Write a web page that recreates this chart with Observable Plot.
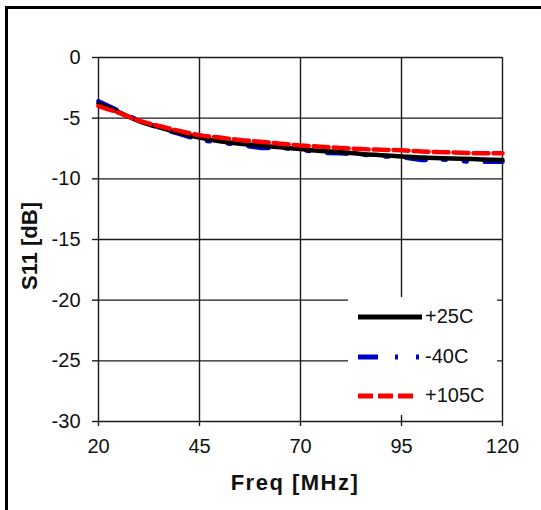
<!DOCTYPE html>
<html>
<head>
<meta charset="utf-8">
<script src="https://cdn.jsdelivr.net/npm/d3@7"></script>
<script src="https://cdn.jsdelivr.net/npm/@observablehq/plot@0.6"></script>
<style>
  html, body { margin: 0; padding: 0; background: #fff; overflow: hidden; }
  #wrap { position: relative; width: 541px; height: 510px; overflow: hidden; font-family: "Liberation Sans", Arial, sans-serif; }
  #frame { position: absolute; left: 5px; top: 6px; width: 600px; height: 600px; border: 3.5px solid #000; box-sizing: border-box; }
  #chart { position: absolute; left: 0; top: 0; }
  #legend { position: absolute; left: 348px; top: 297px; width: 149px; height: 118px; background: #fff; }
  .ttl { position: absolute; font-weight: bold; font-size: 22px; color: #111; white-space: nowrap; }
</style>
</head>
<body>
<div id="wrap">
  <div id="frame"></div>
  <div id="chart"></div>
  <div id="legend"></div>
  <div class="ttl" id="ytitle">S11 [dB]</div>
  <div class="ttl" id="xtitle">Freq [MHz]</div>
</div>
<script>
const freq = [20,25,30,35,40,45,50,55,60,65,70,75,80,85,90,95,100,105,110,115,120];
const s11_p25  = [-3.8,-4.5,-5.25,-5.75,-6.2,-6.6,-6.9,-7.1,-7.25,-7.4,-7.55,-7.7,-7.8,-7.95,-8.05,-8.15,-8.25,-8.3,-8.35,-8.4,-8.45];
const s11_m40  = [-3.6,-4.4,-5.2,-5.8,-6.3,-6.8,-7.0,-7.2,-7.45,-7.45,-7.6,-7.85,-7.9,-8.0,-8.15,-8.2,-8.45,-8.4,-8.55,-8.6,-8.6];
const s11_p105 = [-4.0,-4.55,-5.2,-5.65,-6.05,-6.4,-6.6,-6.8,-6.95,-7.1,-7.25,-7.35,-7.45,-7.55,-7.6,-7.65,-7.75,-7.8,-7.85,-7.9,-7.9];
const xTicks = [20,45,70,95,120];
const yTicks = [0,-5,-10,-15,-20,-25,-30];
const seriesNames = ["+25C","-40C","+105C"];
const seriesColors = ["#000000","#0000cc","#ff0000"];
const seriesDash = [null, "20,17,3,18,3,18", "15,5"];

const rows = (vals, name) => freq.map((f, i) => ({freq: f, s11: vals[i], series: name}));
const dBlack = rows(s11_p25, seriesNames[0]);
const dBlue  = rows(s11_m40, seriesNames[1]);
const dRed   = rows(s11_p105, seriesNames[2]);

const W = 541, H = 510;
const chart = Plot.plot({
  width: W, height: H,
  marginLeft: 98, marginRight: 39, marginTop: 57, marginBottom: 89,
  style: {fontFamily: '"Liberation Sans", Arial, sans-serif', fontSize: "20px", color: "#111", background: "transparent", overflow: "visible"},
  x: {domain: [20, 120]},
  y: {domain: [-30, 0]},
  marks: [
    Plot.gridX(xTicks, {stroke: "#1a1a1a", strokeOpacity: 1, strokeWidth: 1.4}),
    Plot.gridY(yTicks, {stroke: "#1a1a1a", strokeOpacity: 1, strokeWidth: 1.4}),
    Plot.axisX({ticks: xTicks, tickSize: 5, tickPadding: 12, label: null, stroke: "#1a1a1a", strokeWidth: 1.4, fontSize: 20, tickFormat: d => String(d)}),
    Plot.axisY({ticks: yTicks, tickSize: 6, tickPadding: 12, label: null, stroke: "#1a1a1a", strokeWidth: 1.4, fontSize: 20, tickFormat: d => String(d)}),
    Plot.line(dBlue, {x: "freq", y: "s11", stroke: seriesColors[1], strokeWidth: 4.5, strokeDasharray: seriesDash[1]}),
    Plot.line(dBlack, {x: "freq", y: "s11", stroke: seriesColors[0], strokeWidth: 4.5, curve: "monotone-x"}),
    Plot.line(dRed, {x: "freq", y: "s11", stroke: seriesColors[2], strokeWidth: 4.5, strokeDasharray: seriesDash[2], curve: "monotone-x"})
  ]
});
document.getElementById("chart").appendChild(chart);

// legend
const lg = d3.select("#legend").append("svg").attr("width", 149).attr("height", 118)
  .style("font-family", '"Liberation Sans", Arial, sans-serif');
const legLen = [64, 64, 55];
seriesNames.forEach((name, i) => {
  const cy = [20, 60, 99][i];
  const ln = lg.append("line").attr("x1", 10).attr("x2", 10 + legLen[i]).attr("y1", cy).attr("y2", cy)
    .attr("stroke", seriesColors[i]).attr("stroke-width", 5);
  if (seriesDash[i]) ln.attr("stroke-dasharray", seriesDash[i]);
  lg.append("text").attr("x", 77).attr("y", cy + 6).attr("font-size", 20).attr("fill", "#111").text(name);
});

// axis titles
const yt = document.getElementById("ytitle");
yt.style.left = "29.5px"; yt.style.top = "246px";
yt.style.transform = "translate(-50%,-50%) rotate(-90deg)";
const xt = document.getElementById("xtitle");
xt.style.left = "295px"; xt.style.top = "470px"; xt.style.letterSpacing = "1.5px";
xt.style.transform = "translateX(-50%)";
</script>
</body>
</html>
